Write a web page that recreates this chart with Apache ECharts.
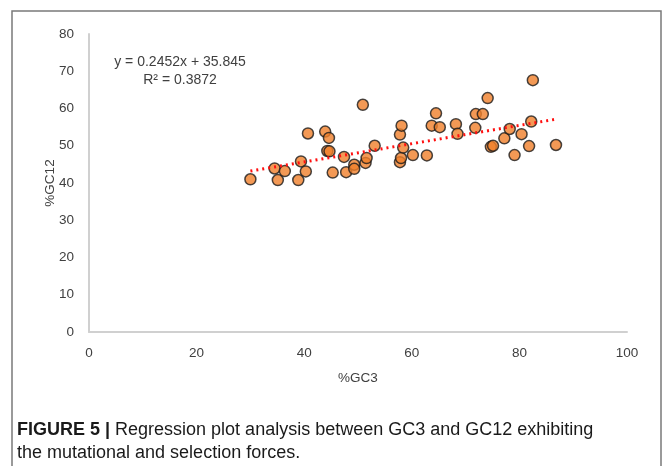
<!DOCTYPE html>
<html><head><meta charset="utf-8">
<script src="https://cdn.jsdelivr.net/npm/echarts@6/dist/echarts.min.js"></script>
<style>html,body{margin:0;padding:0;background:#fff}#c{width:663px;height:466px}</style>
</head><body><div id="c"></div>
<script>
const gc3 = [30.0,34.5,35.1,36.4,38.9,39.4,40.3,40.7,43.9,44.6,44.3,44.7,45.3,47.4,47.8,49.3,49.3,50.9,51.4,51.6,53.1,57.8,58.0,58.4,57.8,58.1,60.2,62.8,63.7,64.5,65.2,68.2,68.5,71.8,71.9,73.2,74.1,74.7,75.1,77.2,78.2,79.1,80.4,81.8,82.2,82.5,86.8];
const gc12 = [41.0,43.9,40.8,43.2,40.8,45.8,43.1,53.3,53.8,52.1,48.6,48.5,42.8,47.0,42.9,44.9,43.8,61.0,45.4,46.7,50.0,45.6,46.7,49.5,53.0,55.4,47.5,47.4,55.4,58.7,55.0,55.8,53.2,54.8,58.5,58.5,62.8,49.7,50.0,52.0,54.5,47.5,53.1,49.9,56.5,67.6,50.2];
const slope = 0.2452, intercept = 35.845;
const trendRange = [30, 87];
const xTicks = [0,20,40,60,80,100];
const yTicks = [0,10,20,30,40,50,60,70,80];

const pts = gc3.map((x,i)=>[x, gc12[i]]);
const trend = trendRange.map(x=>[x, slope*x+intercept]);
const chart = echarts.init(document.getElementById('c'));
const lab = {color:'#404040', fontSize:13.5, fontFamily:'Liberation Sans, Arial, sans-serif'};
chart.setOption({
  animation:false,
  backgroundColor:'#fff',
  grid:{left:89, right:36, top:34, bottom:134, containLabel:false},
  xAxis:{type:'value', min:0, max:100, interval:20,
    name:'%GC3', nameLocation:'middle', nameGap:39,
    nameTextStyle:lab,
    axisLine:{show:true, lineStyle:{color:'#d0d0d0', width:2}},
    axisTick:{show:false}, splitLine:{show:false},
    axisLabel:Object.assign({margin:14}, lab)},
  yAxis:{type:'value', min:0, max:80, interval:10,
    name:'%GC12', nameLocation:'middle', nameGap:32, nameRotate:90, nameMoveOverlap:false,
    nameTextStyle:lab,
    axisLine:{show:true, lineStyle:{color:'#d0d0d0', width:2}},
    axisTick:{show:false}, splitLine:{show:false},
    axisLabel:Object.assign({margin:15}, lab)},
  graphic:[
    {type:'rect', shape:{x:12, y:11, width:649, height:470}, style:{fill:'none', stroke:'#7a7a7a', lineWidth:1.5}, silent:true},
    {type:'text', x:180, y:62, style:{text:'y = 0.2452x + 35.845', fill:'#404040', font:'14px "Liberation Sans", Arial, sans-serif', textAlign:'center', textVerticalAlign:'middle'}},
    {type:'text', x:180, y:80, style:{text:'R² = 0.3872', fill:'#404040', font:'14px "Liberation Sans", Arial, sans-serif', textAlign:'center', textVerticalAlign:'middle'}},
    {type:'text', x:17, y:430, style:{
      text:'{b|FIGURE 5 |} Regression plot analysis between GC3 and GC12 exhibiting',
      rich:{b:{fontWeight:'bold', fontSize:18, fill:'#1a1a1a', fontFamily:'Liberation Sans, Arial, sans-serif'}},
      fill:'#1a1a1a', font:'18px "Liberation Sans", Arial, sans-serif', textVerticalAlign:'middle'}},
    {type:'text', x:17, y:453, style:{text:'the mutational and selection forces.', fill:'#1a1a1a', font:'18px "Liberation Sans", Arial, sans-serif', textVerticalAlign:'middle'}}
  ],
  series:[
    {type:'scatter', data:pts, symbol:'circle', symbolSize:11, z:2,
      itemStyle:{color:'#f0802a', borderColor:'#1a1a1a', borderWidth:1.5}},
    {type:'line', data:trend, symbol:'none', z:3,
      lineStyle:{color:'#ff1010', width:3, type:[2,4]}}
  ]
});
</script></body></html>
